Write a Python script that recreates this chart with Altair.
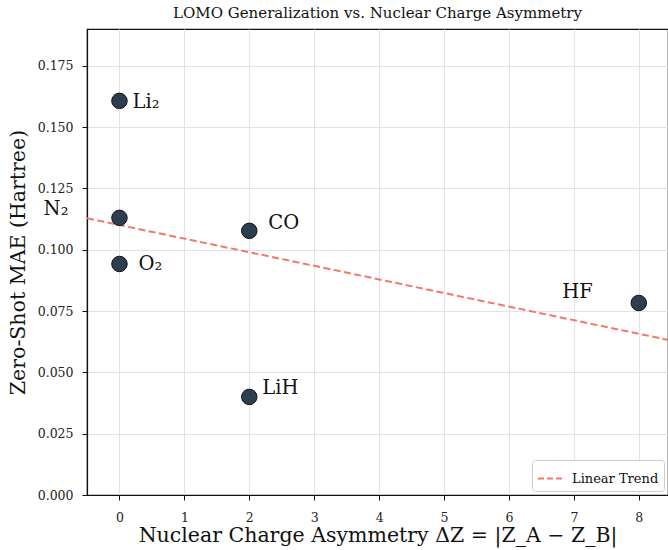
import altair as alt
import pandas as pd

molecules = ["Li₂", "N₂", "O₂", "CO", "LiH", "HF"]
delta_z = [0, 0, 0, 2, 2, 8]
mae = [0.1607, 0.1130, 0.0942, 0.1077, 0.0400, 0.0783]
x_ticks = [0, 1, 2, 3, 4, 5, 6, 7, 8]
y_ticks = [0.0, 0.025, 0.05, 0.075, 0.1, 0.125, 0.15, 0.175]

df = pd.DataFrame({"molecule": molecules, "dz": delta_z, "mae": mae})

FONT = "DejaVu Serif"
XDOM = [-0.5, 8.45]
YDOM = [0, 0.19]

x_enc = alt.X("dz:Q", scale=alt.Scale(domain=XDOM, nice=False, zero=False),
              axis=alt.Axis(values=x_ticks, format="d",
                            title="Nuclear Charge Asymmetry ΔZ = |Z_A − Z_B|"))
y_enc = alt.Y("mae:Q", scale=alt.Scale(domain=YDOM, nice=False),
              axis=alt.Axis(values=y_ticks, format=".3f",
                            title="Zero-Shot MAE (Hartree)"))

base = alt.Chart(df)

trend = base.transform_regression(
    "dz", "mae", extent=XDOM
).transform_calculate(
    series="'Linear Trend'"
).mark_line(strokeDash=[7, 3.5], strokeWidth=2, clip=True).encode(
    x=x_enc, y=y_enc,
    color=alt.Color("series:N", scale=alt.Scale(range=["#F1796B"]),
                    legend=alt.Legend(title=None)),
)

points = base.mark_circle(size=240, opacity=1, fill="#2C3E50",
                          stroke="#111111", strokeWidth=1).encode(x=x_enc, y=y_enc)

offsets = {
    "Li₂": (13, 1, "left"),
    "N₂": (-51, -9, "right"),
    "O₂": (19, 0, "left"),
    "CO": (19, -8, "left"),
    "LiH": (13, -9, "left"),
    "HF": (-46, -11, "right"),
}
labels = []
for m in molecules:
    dx, dy, al = offsets[m]
    labels.append(
        base.transform_filter(alt.datum.molecule == m)
        .mark_text(dx=dx, dy=dy, align=al, baseline="middle", font=FONT,
                   fontSize=19.5, color="#111111")
        .encode(x=x_enc, y=y_enc, text="molecule:N")
    )

chart = alt.layer(trend, points, *labels).properties(
    width=581, height=466,
    title=alt.TitleParams("LOMO Generalization vs. Nuclear Charge Asymmetry",
                          font=FONT, fontSize=15, fontWeight="normal",
                          color="#111111", offset=8),
    autosize=alt.AutoSizeParams(type="none"),
    padding={"left": 87, "top": 29, "right": 0, "bottom": 55},
).configure_view(
    stroke="#111111", strokeWidth=1.2
).configure_axis(
    labelFont=FONT, titleFont=FONT, labelFontSize=12.5, titleFontSize=20.5,
    titleFontWeight="normal", labelColor="#222222", titleColor="#111111",
    gridColor="#e3e3e3", gridWidth=1, tickColor="#111111", tickSize=5,
    domainColor="#111111", domainWidth=1.2,
).configure_axisX(
    labelPadding=11, titlePadding=2,
).configure_axisY(
    labelPadding=9, titlePadding=9,
).configure_legend(
    orient="bottom-right", labelFont=FONT, labelFontSize=13,
    labelColor="#111111", strokeColor="#cccccc", fillColor="white",
    padding=5, cornerRadius=3, symbolType="stroke", symbolStrokeWidth=2,
    symbolDash=[6, 3], symbolSize=625, offset=4, labelOffset=8,
)

chart.save("out.html", embed_options={"renderer": "svg", "actions": False})
